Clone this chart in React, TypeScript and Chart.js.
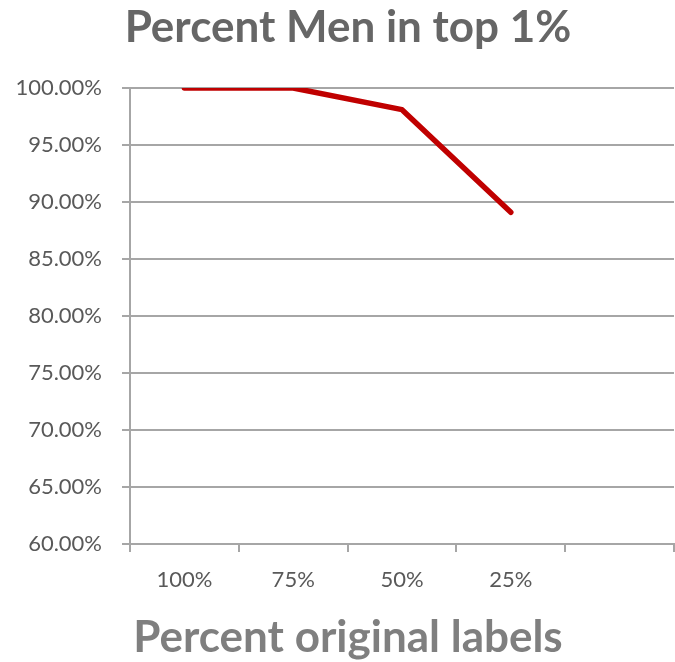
import React, { useEffect, useRef } from "react";
import { Chart, registerables } from "chart.js";

Chart.register(...registerables);

// Share of men in the top 1%, by percent of original labels kept
const categories = ["100%", "75%", "50%", "25%", ""];
const percentMen = [100, 100, 98.1, 89.1, null];

const yTicks = { min: 60, max: 100, step: 5 };

const FONT = "Lato, 'Open Sans', 'Liberation Sans', sans-serif";
const GRID = "#a6a6a6";

// The left padding only shifts the centred titles; let the y labels use the full left edge.
const widenYLabels = {
  id: "widenYLabels",
  afterLayout(chart: any) {
    const y = chart.scales.y;
    if (y) y.left = 0;
  },
};

export default function App() {
  const ref = useRef<HTMLCanvasElement | null>(null);

  useEffect(() => {
    document.body.style.margin = "0";
    const chart = new Chart(ref.current!, {
      type: "line",
      data: {
        labels: categories,
        datasets: [
          {
            label: "Percent Men in top 1%",
            data: percentMen,
            borderColor: "#c00000",
            backgroundColor: "#c00000",
            borderWidth: 5.5,
            pointRadius: 0,
            tension: 0,
            borderCapStyle: "round",
            borderJoinStyle: "round",
          },
        ],
      },
      plugins: [widenYLabels],
      options: {
        animation: false,
        responsive: false,
        layout: { padding: { left: 22, right: 1, top: 0, bottom: 0 } },
        plugins: {
          legend: { display: false },
          tooltip: { enabled: false },
          title: {
            display: true,
            text: "Percent Men in top 1%",
            color: "#666666",
            font: { family: FONT, size: 44, weight: "bold", lineHeight: 1.2 },
            padding: { top: 1, bottom: 34.2 },
          },
          subtitle: {
            display: true,
            position: "bottom",
            text: "Percent original labels",
            color: "#7f7f7f",
            font: { family: FONT, size: 44, weight: "bold", lineHeight: 1 },
            padding: { top: 0, bottom: 2 },
          },
        },
        scales: {
          x: {
            type: "category",
            offset: true,
            grid: {
              offset: true,
              drawOnChartArea: false,
              drawTicks: true,
              tickLength: 8,
              color: GRID,
              lineWidth: 2,
            },
            border: { display: true, color: GRID, width: 2 },
            ticks: {
              color: "#595959",
              font: { family: FONT, size: 22 },
              padding: 15,
              maxRotation: 0,
            },
            afterFit: (scale: any) => {
              scale.height = 72;
            },
          },
          y: {
            min: yTicks.min,
            max: yTicks.max,
            grid: {
              color: GRID,
              lineWidth: 2,
              drawTicks: true,
              tickLength: 8,
            },
            border: { display: true, color: GRID, width: 2 },
            ticks: {
              stepSize: yTicks.step,
              color: "#595959",
              font: { family: FONT, size: 22 },
              padding: 20,
              callback: (v: any) => Number(v).toFixed(2) + "%",
            },
            afterFit: (scale: any) => {
              scale.width = 108;
            },
          },
        },
      },
    });
    return () => chart.destroy();
  }, []);

  return (
    <div style={{ position: "absolute", left: 0, top: 0, width: 675, height: 662, background: "#fff" }}>
      <canvas ref={ref} width={675} height={662} style={{ display: "block" }} />
    </div>
  );
}
